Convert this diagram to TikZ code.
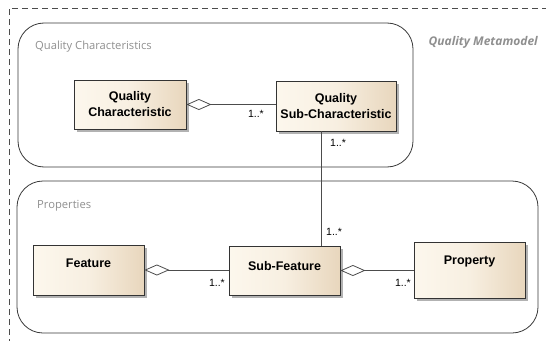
\documentclass[tikz,border=0pt]{standalone}
\usepackage{fontspec}
\setmainfont{Liberation Sans}
\newfontfamily\pkgfont{Open Sans}
\usepackage{tikz}
\usetikzlibrary{
	arrows.meta,
	shadings,
	shadows,
	shapes,
}
\definecolor{classlight}{rgb}{0.99, 0.97, 0.93}
\definecolor{classdark}{rgb}{0.91, 0.84, 0.74}
\definecolor{classline}{rgb}{0.20, 0.20, 0.20}
\definecolor{pkgline}{rgb}{0.22, 0.22, 0.22}
\definecolor{pkgtext}{rgb}{0.56, 0.56, 0.56}
\definecolor{wire}{rgb}{0.30, 0.30, 0.30}

\begin{document}
\begin{tikzpicture}[x=1pt, y=-1pt,
	class/.style={draw=classline, line width=0.8pt, left color=classlight, right color=classdark, middle color=classlight!75!classdark,
		drop shadow={shadow xshift=3pt, shadow yshift=-3pt, fill=black, opacity=0.3},
		font=\fontsize{12.5}{16}\selectfont\bfseries, align=center, inner sep=0pt},
	pkg/.style={draw=pkgline, line width=0.8pt, rounded corners=26pt},
	pkglabel/.style={text=pkgtext, font=\pkgfont\fontsize{11.2}{13}\selectfont, anchor=west, inner sep=0pt},
	agg/.style={draw=wire, line width=0.8pt, {Diamond[open, length=25pt, width=11pt]}-},
	assoc/.style={draw=wire, line width=0.8pt},
	mult/.style={font=\fontsize{10.5}{12}\selectfont, inner sep=0pt},
	]
\useasboundingbox (0,0) rectangle (546,340);
% metamodel frame
\draw[gray!60!black, line width=0.7pt, dash pattern=on 6pt off 4pt] (9,345) -- (9,8) -- (550,8);
\node[text=pkgtext, font=\pkgfont\fontsize{12}{14}\selectfont\bfseries\itshape, anchor=east, inner sep=0pt] (meta) at (538,42) {Quality Metamodel};
%% packages:
% quality characteristics
\draw[pkg] (18,23) rectangle (413,167);
\node[pkglabel] (qclabel) at (35,47) {Quality Characteristics};
% properties
\draw[pkg] (17,181) rectangle (538,333);
\node[pkglabel] (proplabel) at (37,206) {Properties};

%% classes:
\node[class, minimum width=112pt, minimum height=49pt] (qc) at (130,104.5) {Quality\\Characteristic};
\node[class, minimum width=120pt, minimum height=50pt] (qsc) at (336,106) {Quality\\Sub-Characteristic};
\node[class, minimum width=111pt, minimum height=50pt, text depth=14pt] (fea) at (88.5,270) {Feature};
\node[class, minimum width=111pt, minimum height=49pt, text depth=10pt] (sf) at (284.5,270.5) {Sub-Feature};
\node[class, minimum width=111pt, minimum height=56pt, text depth=19pt] (prop) at (469.5,270) {Property};

%% connectors:
\coordinate (vline) at (321,0);
\draw[agg] (qc.east) -- (qc.east -| qsc.west);
\node[mult, anchor=north east] (m1) at (264,110) {1..*};
\draw[assoc] (qsc.south -| vline) -- (sf.north -| vline);
\node[mult, anchor=north west] (m2) at (330,139) {1..*};
\node[mult, anchor=south west] (m3) at (326,236) {1..*};
\draw[agg] (fea.east) -- (fea.east -| sf.west);
\node[mult, anchor=north east] (m4) at (225,279) {1..*};
\draw[agg] (sf.east) -- (sf.east -| prop.west);
\node[mult, anchor=north east] (m5) at (411,279) {1..*};
\end{tikzpicture}
\end{document}
